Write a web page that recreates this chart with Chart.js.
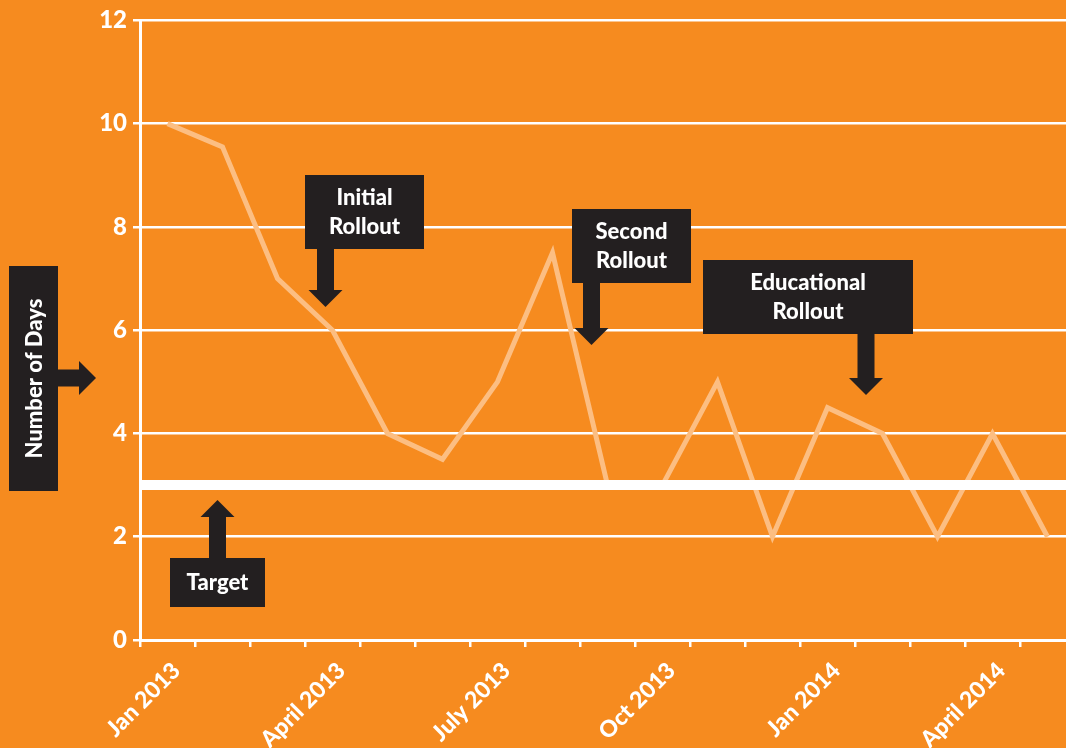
<!DOCTYPE html>
<html>
<head>
<meta charset="utf-8">
<script src="https://cdn.jsdelivr.net/npm/chart.js@4"></script>
<style>
  html, body { margin: 0; padding: 0; background: #F68B1F; overflow: hidden; }
  #wrap { width: 1066px; height: 748px; overflow: hidden; position: relative; }
  canvas { display: block; }
</style>
</head>
<body>
<div id="wrap"><canvas id="chart" width="1080" height="748"></canvas></div>
<script>
// ── Data ──
const months = ['Jan 2013', 'Feb 2013', 'Mar 2013', 'April 2013', 'May 2013', 'June 2013',
    'July 2013', 'Aug 2013', 'Sept 2013', 'Oct 2013', 'Nov 2013', 'Dec 2013',
    'Jan 2014', 'Feb 2014', 'Mar 2014', 'April 2014', 'May 2014'];
const days = [10, 9.55, 7, 6, 4, 3.5, 5, 7.5, 3, 3, 5, 2, 4.5, 4, 2, 4, 2];
const targetDays = 3;
const yTicks = [0, 2, 4, 6, 8, 10, 12];

const ORANGE = '#F68B1F';
const PEACH = '#FCBE82';
const DARK = '#231F20';
const FONT = 'Lato, "Open Sans", sans-serif';

// ── Callouts (box + arrow), drawn on top ──
const callouts = [
    { lines: ['Number of Days'], box: [9, 266, 49, 225], vertical: true,
      arrow: { dir: 'right', x0: 58, x1: 96, c: 378 } },
    { lines: ['Target'], box: [170, 558, 95, 49],
      arrow: { dir: 'up', y0: 558, y1: 500, c: 217.5 } },
    { lines: ['Initial', 'Rollout'], box: [305, 175, 119, 74],
      arrow: { dir: 'down', y0: 249, y1: 307, c: 325.5 } },
    { lines: ['Second', 'Rollout'], box: [572, 209, 119, 74],
      arrow: { dir: 'down', y0: 283, y1: 345, c: 591.5 } },
    { lines: ['Educational', 'Rollout'], box: [703, 260, 210, 74],
      arrow: { dir: 'down', y0: 334, y1: 395, c: 866 } },
];

function drawArrow(ctx, a) {
    const sw = 8.5, hw = 17, hl = 17;
    ctx.beginPath();
    if (a.dir === 'down' || a.dir === 'up') {
        const s = a.dir === 'down' ? 1 : -1;
        const yh = a.y1 - s * hl;
        ctx.moveTo(a.c - sw, a.y0); ctx.lineTo(a.c - sw, yh); ctx.lineTo(a.c - hw, yh);
        ctx.lineTo(a.c, a.y1); ctx.lineTo(a.c + hw, yh); ctx.lineTo(a.c + sw, yh);
        ctx.lineTo(a.c + sw, a.y0);
    } else {
        const xh = a.x1 - hl;
        ctx.moveTo(a.x0, a.c - sw); ctx.lineTo(xh, a.c - sw); ctx.lineTo(xh, a.c - hw);
        ctx.lineTo(a.x1, a.c); ctx.lineTo(xh, a.c + hw); ctx.lineTo(xh, a.c + sw);
        ctx.lineTo(a.x0, a.c + sw);
    }
    ctx.closePath();
    ctx.fill();
}

const overlay = {
    id: 'overlay',
    afterDatasetsDraw(chart) {
        const { ctx, chartArea, scales } = chart;
        // target line
        const ty = scales.y.getPixelForValue(targetDays);
        ctx.save();
        ctx.strokeStyle = '#FFFFFF';
        ctx.lineWidth = 10;
        ctx.beginPath();
        ctx.moveTo(chartArea.left + 1.5, ty);
        ctx.lineTo(chartArea.right, ty);
        ctx.stroke();
        ctx.restore();
    },
    afterDraw(chart) {
        const ctx = chart.ctx;
        ctx.save();
        for (const c of callouts) {
            const [bx, by, bw, bh] = c.box;
            ctx.fillStyle = DARK;
            ctx.fillRect(bx, by, bw, bh);
            drawArrow(ctx, c.arrow);
            ctx.fillStyle = '#FFFFFF';
            ctx.font = `900 22px ${FONT}`;
            ctx.textAlign = 'center';
            ctx.textBaseline = 'middle';
            const cx = bx + bw / 2, cy = by + bh / 2;
            if (c.vertical) {
                ctx.save();
                ctx.translate(cx + 1, cy);
                ctx.rotate(-Math.PI / 2);
                ctx.fillText(c.lines[0], 0, 0);
                ctx.restore();
            } else {
                const lh = 29;
                c.lines.forEach((t, i) => {
                    ctx.fillText(t, cx, cy + (i - (c.lines.length - 1) / 2) * lh);
                });
            }
        }
        ctx.restore();
    }
};

new Chart(document.getElementById('chart'), {
    type: 'line',
    data: {
        labels: months,
        datasets: [{
            label: 'Number of Days',
            data: days,
            borderColor: PEACH,
            borderWidth: 5,
            pointRadius: 0,
            tension: 0,
            fill: false,
        }]
    },
    options: {
        responsive: false,
        animation: false,
        layout: { padding: { top: 18, right: 5, left: 0, bottom: 0 } },
        plugins: { legend: { display: false }, tooltip: { enabled: false } },
        scales: {
            x: {
                type: 'category',
                offset: true,
                afterFit: s => { s.height = 108; },
                grid: { offset: true, drawOnChartArea: false, color: '#FFFFFF', lineWidth: 2.5, tickLength: 7 },
                border: { color: '#FFFFFF', width: 3 },
                ticks: {
                    color: '#FFFFFF', font: { family: FONT, size: 23, weight: '900' },
                    autoSkip: false, minRotation: 45, maxRotation: 45, padding: 10, labelOffset: 9,
                    callback: (v, i) => i % 3 === 0 ? months[i] : ''
                }
            },
            y: {
                min: 0, max: 12,
                afterFit: s => { s.width = 140; },
                afterBuildTicks: s => { s.ticks = yTicks.map(v => ({ value: v })); },
                grid: { color: '#FFFFFF', lineWidth: 2.5, tickLength: 7 },
                border: { color: '#FFFFFF', width: 3 },
                ticks: {
                    color: '#FFFFFF', font: { family: FONT, size: 24, weight: '900' },
                    padding: 6
                }
            }
        }
    },
    plugins: [overlay]
});
</script>
</body>
</html>
